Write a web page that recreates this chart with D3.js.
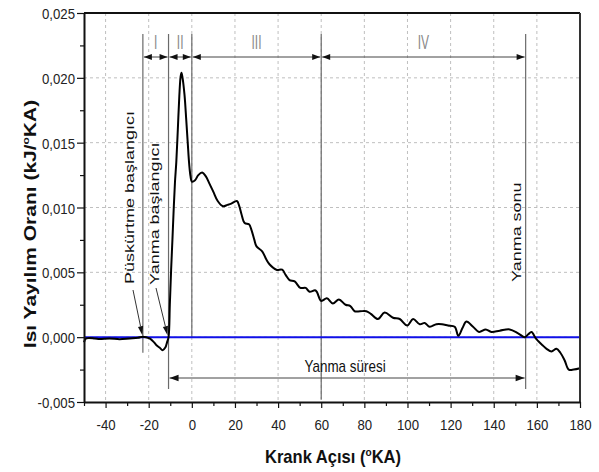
<!DOCTYPE html>
<html>
<head>
<meta charset="utf-8">
<script src="https://cdn.jsdelivr.net/npm/d3@7"></script>
<style>
  body { margin: 0; background: #fff; }
  svg { display: block; }
  text { font-family: "Liberation Sans", Arial, sans-serif; }
</style>
</head>
<body>
<svg id="chart" width="599" height="472"></svg>
<script>
// Heat release rate vs crank angle
const crankAngle = [
  -50, -49, -45, -42.8, -38.2, -33.5, -28.9, -25, -22.7, -19.6, -17.5, -16.5, -15, -13.5, -12.3, -11.5,
  -10.8, -10.2, -9.6, -9.0, -8.4, -7.8, -7.2, -6.5, -5.8, -5.2, -4.8, -4.3, -3.4, -2.6, -1.9, -1.2, -0.6,
  0, 1.5, 3, 4.8, 6.5, 8, 10, 12, 14.4, 16.5, 18.3, 20.9, 22, 23, 24.5, 26.5, 27.6, 29, 30, 32.7, 34.5,
  36.1, 39.2, 41.9, 43.5, 45.3, 47.7, 50.3, 52.8, 54.6, 57.4, 60, 62.6, 65.4, 68.2, 71.3, 73.5, 75.5, 78,
  80.9, 83, 86.3, 89.4, 93.3, 96.4, 99.9, 102.6, 105.7, 108, 110.3, 113.4, 116, 118.8, 121.9, 123.6, 125.5,
  127.3, 130.4, 133.2, 136.3, 138.9, 142.8, 147.4, 151.3, 154.4, 155.9, 157.5, 159.5, 160.6, 162.5, 164.5,
  166.8, 169.1, 170.9, 172.9, 174.8, 177.1, 180
];
const heatRelease = [
  -0.0004, -0.0001, -0.0001, -0.00015, -0.0001, -0.00016, -0.0001, -0.00005, 0.00004, -0.0001, -0.0004, -0.0006, -0.0008, -0.0010, -0.0008, -0.0004,
  0.0, 0.0025, 0.0052, 0.0075, 0.0099, 0.0120, 0.0135, 0.0160, 0.0186, 0.0201, 0.0204, 0.0200, 0.0187, 0.0168, 0.0150, 0.0133, 0.0124,
  0.0120, 0.0121, 0.0125, 0.0127, 0.0124, 0.0119, 0.0112, 0.0105, 0.0101, 0.0102, 0.0103, 0.0105, 0.0101, 0.0095, 0.0088, 0.0087, 0.0083, 0.0075, 0.0070, 0.0066, 0.0060,
  0.0056, 0.0052, 0.0052, 0.0048, 0.0044, 0.0043, 0.0038, 0.0038, 0.0035, 0.0036, 0.0028, 0.0030, 0.0026, 0.0029, 0.0025, 0.0024, 0.0020, 0.0020,
  0.0020, 0.0018, 0.0014, 0.0019, 0.0015, 0.0014, 0.0009, 0.0014, 0.0010, 0.0011, 0.0008, 0.0010, 0.0010, 0.0009, 0.0008, 0.0001, 0.0007,
  0.0012, 0.0008, 0.0004, 0.0006, 0.0004, 0.0005, 0.0006, 0.0003, 0.0000, 0.0002, 0.0004, -0.0001, -0.0003, -0.0006, -0.0009,
  -0.0011, -0.0009, -0.0012, -0.0018, -0.0025, -0.0025, -0.0024
];
const xTicks = [-40, -20, 0, 20, 40, 60, 80, 100, 120, 140, 160, 180];
const xMinorTicks = [-50, -30, -10, 10, 30, 50, 70, 90, 110, 130, 150, 170];
const yTicks = [-0.005, 0, 0.005, 0.010, 0.015, 0.020, 0.025];
const yMinorTicks = [-0.0025, 0.0025, 0.0075, 0.0125, 0.0175, 0.0225];
const phaseEdges = [-22.7, -10.8, 0, 60, 154.8];
const phaseNames = ["I", "II", "III", "IV"];
const injectionStart = -22.7, combustionStart = -10.8, combustionEnd = 154.8;

const svg = d3.select("#chart");
const x = d3.scaleLinear().domain([-50, 180]).range([84, 580]);
const y = d3.scaleLinear().domain([-0.005, 0.025]).range([402, 13]);
const fmtY = v => d3.format(".3f")(v).replace(".", ",").replace("\u2212", "-");
const fmtX = v => d3.format("d")(v).replace("\u2212", "-");

// grid
const grid = svg.append("g").attr("stroke", "#b8b8b8").attr("stroke-width", 0.9).attr("stroke-dasharray", "3,3");
grid.selectAll("line.v").data(xTicks.filter(d => d < 180)).join("line")
  .attr("x1", d => x(d)).attr("x2", d => x(d)).attr("y1", y(0.025)).attr("y2", y(-0.005));
grid.selectAll("line.h").data(yTicks.filter(d => d > -0.005 && d < 0.025)).join("line")
  .attr("x1", x(-50)).attr("x2", x(180)).attr("y1", d => y(d)).attr("y2", d => y(d));

// phase boundary lines
const bounds = [
  { a: injectionStart, y2: y(-0.0012) },
  { a: combustionStart, y2: y(-0.004) },
  { a: 0, y2: y(0) },
  { a: 60, y2: y(-0.0048) },
  { a: combustionEnd, y2: y(-0.004) }
];
svg.append("g").selectAll("line").data(bounds).join("line")
  .attr("x1", d => x(d.a)).attr("x2", d => x(d.a))
  .attr("y1", 34).attr("y2", d => d.y2)
  .attr("stroke", "#6a6a6a").attr("stroke-width", 1.2);

function head(g, px, py, dir, len, hw) {
  // filled arrowhead whose tip sits at (px, py), pointing along dir (+1 right, -1 left)
  g.append("path")
    .attr("d", `M${px},${py} L${px - dir * len},${py - hw} L${px - dir * len},${py + hw} Z`)
    .attr("fill", "#111");
}

// phase arrows and labels
const arrowY = 57;
const arrows = svg.append("g");
for (let i = 0; i < phaseNames.length; i++) {
  const x0 = x(phaseEdges[i]) + 1, x1 = x(phaseEdges[i + 1]) - 1;
  arrows.append("line").attr("x1", x0).attr("x2", x1).attr("y1", arrowY).attr("y2", arrowY)
    .attr("stroke", "#444").attr("stroke-width", 1);
  head(arrows, x0, arrowY, -1, 8, 3);
  head(arrows, x1, arrowY, 1, 8, 3);
  const cx = (x(phaseEdges[i]) + x(phaseEdges[i + 1])) / 2;
  arrows.append("text").attr("transform", `translate(${cx},49) scale(0.6,1)`)
    .attr("text-anchor", "middle").attr("font-family", "Liberation Serif, serif")
    .attr("font-size", 20).attr("fill", "#8a8a8a").text(phaseNames[i]);
}

// combustion duration arrow
const durY = 378;
const dx0 = x(combustionStart) + 1, dx1 = x(combustionEnd) - 1;
arrows.append("line").attr("x1", dx0).attr("x2", dx1).attr("y1", durY).attr("y2", durY)
  .attr("stroke", "#444").attr("stroke-width", 1);
head(arrows, dx0, durY, -1, 9, 3.2);
head(arrows, dx1, durY, 1, 9, 3.2);
svg.append("text").attr("transform", `translate(${(x(combustionStart) + x(combustionEnd)) / 2 - 2},372) scale(0.84,1)`)
  .attr("text-anchor", "middle").attr("font-size", 16).attr("fill", "#111").text("Yanma süresi");

// zero line
svg.append("line").attr("x1", x(-50)).attr("x2", x(180)).attr("y1", y(0)).attr("y2", y(0))
  .attr("stroke", "#1010e8").attr("stroke-width", 2);

// curve
const pts = crankAngle.map((a, i) => [a, heatRelease[i]]);
svg.append("path").datum(pts)
  .attr("fill", "none").attr("stroke", "#000").attr("stroke-width", 2)
  .attr("stroke-linejoin", "round")
  .attr("d", d3.line().x(d => x(d[0])).y(d => y(d[1])).curve(d3.curveCatmullRom.alpha(0.5)));

// event labels with pointers
function vlabel(txt, bx, by) {
  svg.append("text").attr("transform", `translate(${bx},${by}) rotate(-90) scale(1,0.75)`)
    .attr("font-size", 18).attr("fill", "#111").text(txt);
}
vlabel("Püskürtme başlangıcı", 134, 284);
vlabel("Yanma başlangıcı", 158.5, 285);
vlabel("Yanma sonu", 521, 282);

function pointer(x0, y0, x1, y1) {
  const ang = Math.atan2(y1 - y0, x1 - x0);
  const len = 9, hw = 2.6;
  const bx = x1 - len * Math.cos(ang), by = y1 - len * Math.sin(ang);
  svg.append("line").attr("x1", x0).attr("y1", y0).attr("x2", bx).attr("y2", by)
    .attr("stroke", "#333").attr("stroke-width", 1);
  const nx = -Math.sin(ang) * hw, ny = Math.cos(ang) * hw;
  svg.append("path").attr("d", `M${x1},${y1} L${bx + nx},${by + ny} L${bx - nx},${by - ny} Z`).attr("fill", "#111");
}
pointer(133, 290, x(injectionStart) - 0.5, y(0) - 2);
pointer(156, 288, x(combustionStart) - 1, y(0) - 2);

// frame
svg.append("line").attr("x1", x(-50)).attr("x2", x(180)).attr("y1", 13).attr("y2", 13).attr("stroke", "#111").attr("stroke-width", 2);
svg.append("line").attr("x1", x(180)).attr("x2", x(180)).attr("y1", 13).attr("y2", 402).attr("stroke", "#333").attr("stroke-width", 2);

// axes
const xAxis = svg.append("g").attr("transform", "translate(0,402)")
  .call(d3.axisBottom(x).tickValues(xTicks).tickFormat(fmtX).tickSize(6).tickSizeOuter(0));
svg.append("g").attr("transform", "translate(0,402)")
  .call(d3.axisBottom(x).tickValues(xMinorTicks).tickFormat("").tickSize(4).tickSizeOuter(0))
  .call(g => g.select(".domain").remove());
const yAxis = svg.append("g").attr("transform", "translate(84,0)")
  .call(d3.axisLeft(y).tickValues(yTicks).tickFormat(fmtY).tickSize(7).tickSizeOuter(0));
svg.append("g").attr("transform", "translate(84,0)")
  .call(d3.axisLeft(y).tickValues(yMinorTicks).tickFormat("").tickSize(4).tickSizeOuter(0))
  .call(g => g.select(".domain").remove());

svg.selectAll(".domain").attr("stroke", "#111").attr("stroke-width", 2);
svg.selectAll(".tick line").attr("stroke", "#111").attr("stroke-width", 1.2);

xAxis.selectAll(".tick text").each(function () {
  const t = d3.select(this);
  t.attr("y", null).attr("dy", null)
    .attr("transform", "translate(0,28) scale(0.88,1)")
    .attr("font-size", 15).attr("fill", "#222").attr("font-family", "Liberation Sans, Arial, sans-serif");
});
yAxis.selectAll(".tick text").each(function () {
  const t = d3.select(this);
  t.attr("x", null).attr("dy", null)
    .attr("transform", "translate(-9,5.5) scale(0.88,1)")
    .attr("font-size", 15).attr("fill", "#222").attr("font-family", "Liberation Sans, Arial, sans-serif");
});

// axis titles
const xt = svg.append("text").attr("transform", "translate(333,463) scale(0.92,1)")
  .attr("text-anchor", "middle").attr("font-size", 18).attr("font-weight", "bold").attr("fill", "#111");
xt.append("tspan").text("Krank Açısı (");
xt.append("tspan").attr("font-size", 11).attr("dy", -7).text("o");
xt.append("tspan").attr("dy", 7).text("KA)");

const yt = svg.append("text").attr("transform", "translate(36,224) rotate(-90) scale(1,0.82)")
  .attr("text-anchor", "middle").attr("font-size", 21).attr("font-weight", "bold").attr("fill", "#111");
yt.append("tspan").text("Isı Yayılım Oranı (kJ/");
yt.append("tspan").attr("font-size", 12).attr("dy", -8).text("o");
yt.append("tspan").attr("dy", 8).text("KA)");
</script>
</body>
</html>
